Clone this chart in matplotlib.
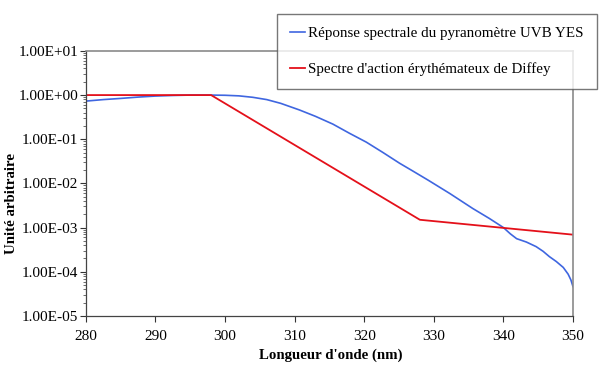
import matplotlib.pyplot as plt
from matplotlib.ticker import LogLocator, FixedLocator, NullFormatter

# Réponse spectrale du pyranomètre UVB YES
lam_yes = [280, 282.5, 285, 287.5, 290, 292.5, 295, 298, 300, 302, 304, 306, 308,
           310.7, 313, 315.5, 317.9, 320.3, 322.7, 325.1, 327, 329.2, 332.3, 335.6,
           338, 340.0, 341, 341.9, 343.3, 344.7, 345.7, 346.6, 347.6, 348.6, 349.3,
           349.7, 350]
rep_yes = [0.73, 0.79, 0.84, 0.90, 0.95, 0.98, 1.0, 1.0, 0.99, 0.96, 0.89, 0.79, 0.65,
           0.46, 0.33, 0.22, 0.136, 0.086, 0.05, 0.0285, 0.019, 0.0118, 0.0059, 0.0027,
           0.0016, 0.001, 0.00072, 0.00056, 0.00047, 0.00037, 0.00029, 0.00022,
           0.00017, 0.000125, 0.000088, 0.000065, 0.000046]

# Spectre d'action érythémateux de Diffey
lam_diffey = [280, 298, 328, 350]
act_diffey = [1.0, 1.0, 0.0015, 0.00069]

yticks = [1e-5, 1e-4, 1e-3, 1e-2, 1e-1, 1e0, 1e1]
ylabels = ['1.00E-05', '1.00E-04', '1.00E-03', '1.00E-02', '1.00E-01', '1.00E+00', '1.00E+01']
xticks = [280, 290, 300, 310, 320, 330, 340, 350]

plt.rcParams['font.family'] = ['Liberation Serif', 'DejaVu Serif']

fig = plt.figure(figsize=(6, 3.69), dpi=100)
ax = fig.add_axes([0.143, 0.144, 0.812, 0.718])

ax.plot(lam_yes, rep_yes, color='#3f66e0', linewidth=1.2,
        label='Réponse spectrale du pyranomètre UVB YES')
ax.plot(lam_diffey, act_diffey, color='#e4101a', linewidth=1.3,
        label="Spectre d'action érythémateux de Diffey")

ax.set_yscale('log')
ax.set_xlim(280, 350)
ax.set_ylim(1e-5, 1e1)
ax.yaxis.set_major_locator(FixedLocator(yticks))
ax.set_yticklabels(ylabels)
ax.yaxis.set_minor_locator(LogLocator(base=10, subs=range(2, 10)))
ax.yaxis.set_minor_formatter(NullFormatter())
ax.set_xticks(xticks)
ax.set_xticklabels([str(v) for v in xticks])

ax.tick_params(axis='both', which='major', labelsize=11, length=4, width=0.8,
               color='#333333', direction='out')
ax.tick_params(axis='y', which='major', pad=1.5)
ax.tick_params(axis='y', which='minor', length=2.5, width=0.6, color='#555555',
               direction='out')
ax.tick_params(axis='x', pad=6)

for s in ['top', 'right']:
    ax.spines[s].set_color('#8a8a8a')
    ax.spines[s].set_linewidth(1.2)
for s in ['left', 'bottom']:
    ax.spines[s].set_color('#444444')
    ax.spines[s].set_linewidth(0.9)

fig.text(331 / 600, 1 - 355 / 369, "Longueur d'onde (nm)", fontsize=10.7,
         fontweight='bold', ha='center', va='center')
fig.text(12 / 600, 1 - 204 / 369, 'Unité arbitraire', rotation=90, fontsize=10.7,
         fontweight='bold', ha='center', va='center')

leg = fig.legend(loc='upper left', bbox_to_anchor=(277 / 600, 1 - 14 / 369),
                 fontsize=10.8, frameon=True, fancybox=False, handlelength=1.0,
                 handletextpad=0.25, labelspacing=1.45, borderpad=0.85,
                 borderaxespad=0)
leg.get_frame().set_edgecolor('#555555')
leg.get_frame().set_linewidth(1.0)

plt.savefig('out.png', dpi=100)
